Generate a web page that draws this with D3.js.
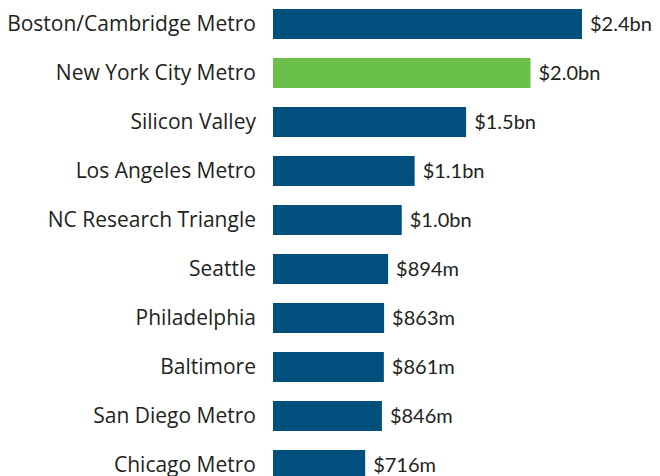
<!DOCTYPE html>
<html>
<head>
<meta charset="utf-8">
<script src="https://cdn.jsdelivr.net/npm/d3@7"></script>
<style>
  html, body { margin: 0; padding: 0; background: #fff; }
  svg { display: block; }
  text { fill: #231f20; }
  .name { font-family: "Open Sans", Lato, sans-serif; }
  .value { font-family: Lato, "Open Sans", sans-serif; }
</style>
</head>
<body>
<svg id="chart" width="660" height="476"></svg>
<script>
// Venture funding by metro area, in millions of dollars
const metros = [
  "Boston/Cambridge Metro",
  "New York City Metro",
  "Silicon Valley",
  "Los Angeles Metro",
  "NC Research Triangle",
  "Seattle",
  "Philadelphia",
  "Baltimore",
  "San Diego Metro",
  "Chicago Metro"
];
const funding = [2400, 2000, 1500, 1100, 1000, 894, 863, 861, 846, 716];
const highlighted = ["New York City Metro"];

const svg = d3.select("#chart");
const barLeft = 273;

const x = d3.scaleLinear().domain([0, 2400]).range([barLeft, 582]);
const y = d3.scaleBand().domain(metros).range([-0.5, -0.5 + 49 * metros.length]).paddingInner(19 / 49).paddingOuter(19 / 98);

const fmt = v => v >= 1000 ? "$" + d3.format(".1f")(v / 1000) + "bn" : "$" + v + "m";

const rows = svg.selectAll("g.row")
  .data(metros.map((m, i) => ({ name: m, value: funding[i] })))
  .join("g")
  .attr("class", "row");

rows.append("rect")
  .attr("x", x(0))
  .attr("y", d => y(d.name))
  .attr("width", d => x(d.value) - x(0))
  .attr("height", y.bandwidth())
  .attr("fill", d => highlighted.includes(d.name) ? "#6abf4b" : "#004f7c");

rows.append("text")
  .attr("class", "name")
  .attr("x", barLeft - 17)
  .attr("y", d => y(d.name) + y.bandwidth() / 2)
  .attr("dy", "0.35em")
  .attr("text-anchor", "end")
  .attr("font-size", 21)
  .text(d => d.name);

rows.append("text")
  .attr("class", "value")
  .attr("x", d => x(d.value) + 8)
  .attr("y", d => y(d.name) + y.bandwidth() / 2)
  .attr("dy", "0.35em")
  .attr("font-size", 20)
  .text(d => fmt(d.value));
</script>
</body>
</html>
